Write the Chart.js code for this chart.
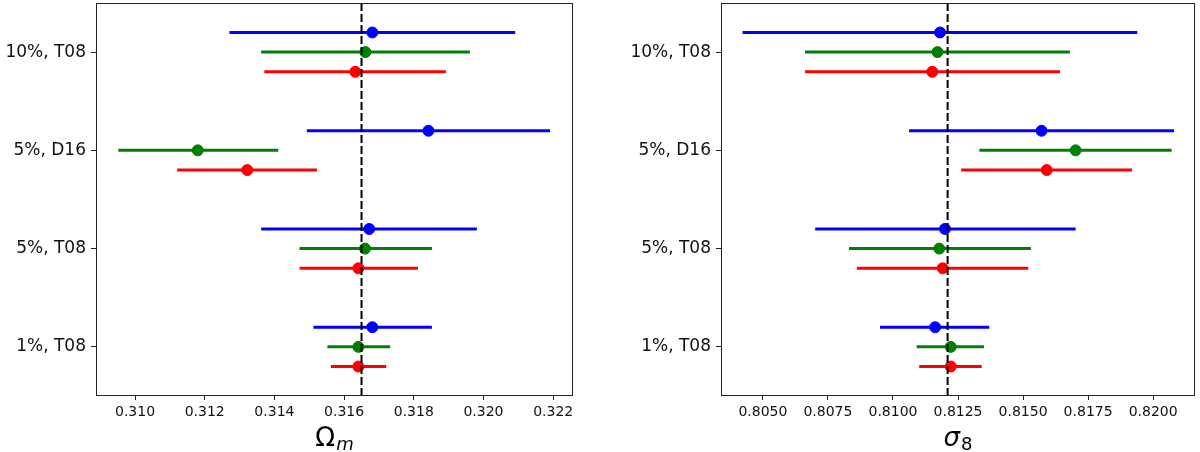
<!DOCTYPE html>
<html>
<head>
<meta charset="utf-8">
<script src="https://cdn.jsdelivr.net/npm/chart.js@4.4.1/dist/chart.umd.min.js"></script>
<style>
    html, body { margin: 0; padding: 0; background: #fff; }
    #wrap { position: relative; width: 1200px; height: 452px; }
    .panel { position: absolute; top: 0; }
</style>
</head>
<body>
<div id="wrap">
    <div class="panel" style="left:0"><canvas id="omChart" width="600" height="452"></canvas></div>
    <div class="panel" style="left:600px"><canvas id="s8Chart" width="600" height="452"></canvas></div>
</div>
<script>
// 类别（y = 0..3，从下到上）
const categories = ['1%, T08', '5%, T08', '5%, D16', '10%, T08'];
const categoryPos = [0, 1, 2, 3];
// 每组三条误差棒的纵向偏移：蓝、绿、红
const seriesOffset = [0.2, 0, -0.2];
const seriesColor = ['#0000ff', '#008000', '#ff0000'];

// Ω_m
const omBlueMid = [0.31681, 0.31672, 0.31842, 0.31681];
const omBlueLow = [0.31512, 0.31362, 0.31493, 0.31271];
const omBlueHigh = [0.31852, 0.31981, 0.32191, 0.32091];
const omGreenMid = [0.31641, 0.31660, 0.31180, 0.31661];
const omGreenLow = [0.31552, 0.31472, 0.30952, 0.31362];
const omGreenHigh = [0.31732, 0.31852, 0.31411, 0.31961];
const omRedMid = [0.31641, 0.31641, 0.31322, 0.31632];
const omRedLow = [0.31562, 0.31472, 0.31121, 0.31371];
const omRedHigh = [0.31721, 0.31812, 0.31522, 0.31892];
const omTicks = [0.310, 0.312, 0.314, 0.316, 0.318, 0.320, 0.322];
const omFiducial = 0.3165;

// σ_8
const s8BlueMid = [0.81162, 0.81200, 0.81571, 0.81181];
const s8BlueLow = [0.80950, 0.80701, 0.81062, 0.80422];
const s8BlueHigh = [0.81370, 0.81702, 0.82080, 0.81939];
const s8GreenMid = [0.81222, 0.81178, 0.81702, 0.81171];
const s8GreenLow = [0.81091, 0.80831, 0.81332, 0.80662];
const s8GreenHigh = [0.81350, 0.81530, 0.82071, 0.81680];
const s8RedMid = [0.81222, 0.81191, 0.81591, 0.81151];
const s8RedLow = [0.81101, 0.80861, 0.81262, 0.80662];
const s8RedHigh = [0.81341, 0.81520, 0.81919, 0.81642];
const s8Ticks = [0.8050, 0.8075, 0.8100, 0.8125, 0.8150, 0.8175, 0.8200];
const s8Fiducial = 0.8121;

// 组装数据集：误差棒为两点折线，中心为散点
function buildDatasets(mids, lows, highs) {
    const sets = [];
    for (let s = 0; s < 3; s++) {
        categoryPos.forEach((y0, i) => {
            const y = y0 + seriesOffset[s];
            sets.push({
                type: 'line',
                data: [{ x: lows[s][i], y: y }, { x: highs[s][i], y: y }],
                borderColor: seriesColor[s],
                borderWidth: 3,
                pointRadius: 0,
                fill: false,
                order: 1
            });
        });
        sets.push({
            type: 'scatter',
            data: categoryPos.map((y0, i) => ({ x: mids[s][i], y: y0 + seriesOffset[s] })),
            backgroundColor: seriesColor[s],
            borderColor: seriesColor[s],
            pointRadius: 5.5,
            pointHoverRadius: 5.5,
            order: 0
        });
    }
    return sets;
}

// 边框、虚线、轴标题
const panelPlugin = {
    id: 'panelPlugin',
    afterDatasetsDraw(chart, args, opts) {
        const ctx = chart.ctx;
        const area = chart.chartArea;
        const px = chart.scales.x.getPixelForValue(opts.fiducial);
        ctx.save();
        ctx.strokeStyle = '#000';
        ctx.lineWidth = 2;
        ctx.setLineDash([8, 3]);
        ctx.beginPath();
        ctx.moveTo(px, area.top);
        ctx.lineTo(px, area.bottom);
        ctx.stroke();
        ctx.setLineDash([]);
        ctx.lineWidth = 1;
        ctx.strokeStyle = '#222';
        ctx.strokeRect(area.left + 0.5, area.top + 0.5, area.right - area.left, area.bottom - area.top);

        // x 轴标题（主符号 + 斜体下标）
        ctx.fillStyle = '#000';
        ctx.textBaseline = 'alphabetic';
        const mainFont = '26px "DejaVu Sans"';
        const subFont = 'italic 18px "DejaVu Sans"';
        ctx.font = mainFont;
        const wMain = ctx.measureText(opts.label).width;
        ctx.font = subFont;
        const wSub = ctx.measureText(opts.sub).width;
        const cx = (area.left + area.right) / 2;
        const x0 = cx - (wMain + wSub) / 2;
        const base = 446;
        ctx.font = (opts.labelItalic ? 'italic ' : '') + mainFont;
        ctx.fillText(opts.label, x0, base);
        ctx.font = opts.subItalic ? subFont : '18px "DejaVu Sans"';
        ctx.fillText(opts.sub, x0 + wMain + 1, base + 4);
        ctx.restore();
    }
};

function makeChart(id, datasets, xMin, xMax, xTicks, digits, yWidth, padRight, fiducial, label, sub, labelItalic, subItalic) {
    return new Chart(document.getElementById(id), {
        data: { datasets: datasets },
        options: {
            responsive: false,
            animation: false,
            layout: { autoPadding: false, padding: { left: 0, right: padRight, top: 3, bottom: 0 } },
            plugins: {
                legend: { display: false },
                tooltip: { enabled: false },
                panelPlugin: { fiducial: fiducial, label: label, sub: sub, labelItalic: labelItalic, subItalic: subItalic }
            },
            scales: {
                x: {
                    type: 'linear',
                    min: xMin,
                    max: xMax,
                    afterBuildTicks: axis => { axis.ticks = xTicks.map(v => ({ value: v })); },
                    afterFit: axis => {
                        axis.height = 57;
                        axis.paddingLeft = 0;
                        axis.paddingRight = 0;
                    },
                    ticks: {
                        callback: v => v.toFixed(digits),
                        color: '#111',
                        padding: 4,
                        maxRotation: 0,
                        font: { family: 'DejaVu Sans', size: 14 }
                    },
                    grid: { drawOnChartArea: false, drawTicks: true, tickLength: 5, color: '#222' },
                    border: { display: false }
                },
                y: {
                    type: 'linear',
                    min: -0.49,
                    max: 3.5,
                    afterBuildTicks: axis => { axis.ticks = categoryPos.map(v => ({ value: v })); },
                    afterFit: axis => {
                        axis.width = yWidth;
                        axis.paddingTop = 0;
                        axis.paddingBottom = 0;
                    },
                    ticks: {
                        callback: v => categories[v],
                        color: '#111',
                        padding: 5,
                        font: { family: 'DejaVu Sans', size: 17 }
                    },
                    grid: { drawOnChartArea: false, drawTicks: true, tickLength: 5, color: '#222' },
                    border: { display: false }
                }
            }
        },
        plugins: [panelPlugin]
    });
}

makeChart('omChart',
    buildDatasets([omBlueMid, omGreenMid, omRedMid], [omBlueLow, omGreenLow, omRedLow], [omBlueHigh, omGreenHigh, omRedHigh]),
    0.30888, 0.32254, omTicks, 3, 96, 28, omFiducial, 'Ω', 'm', false, true);

makeChart('s8Chart',
    buildDatasets([s8BlueMid, s8GreenMid, s8RedMid], [s8BlueLow, s8GreenLow, s8RedLow], [s8BlueHigh, s8GreenHigh, s8RedHigh]),
    0.80339, 0.82157, s8Ticks, 4, 121, 6, s8Fiducial, 'σ', '8', true, false);
</script>
</body>
</html>
